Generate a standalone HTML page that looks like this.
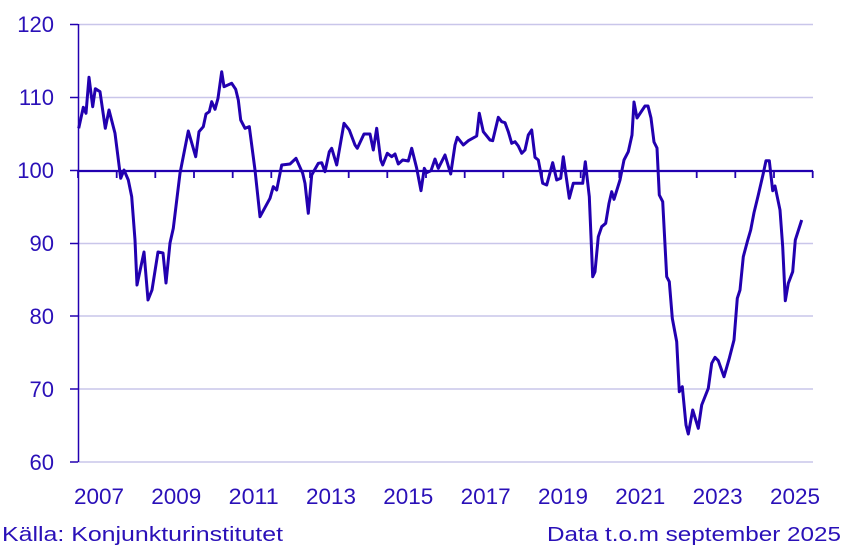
<!DOCTYPE html>
<html><head><meta charset="utf-8"><style>
html,body{margin:0;padding:0;background:#fff}
svg{display:block}
text{font-family:"Liberation Sans",sans-serif;fill:#2a10b8}
</style></head><body>
<svg width="851" height="554" viewBox="0 0 851 554" xmlns="http://www.w3.org/2000/svg">
<g stroke="#c9c6ea" stroke-width="1.5">
<line x1="78" y1="24.5" x2="813" y2="24.5"/>
<line x1="78" y1="97.5" x2="813" y2="97.5"/>
<line x1="78" y1="243.5" x2="813" y2="243.5"/>
<line x1="78" y1="316" x2="813" y2="316"/>
<line x1="78" y1="389" x2="813" y2="389"/>
<line x1="78" y1="462" x2="813" y2="462"/>
</g>
<g stroke="#2200b0" stroke-width="1.5">
<line x1="78.5" y1="24" x2="78.5" y2="462"/>
<line x1="70" y1="24.5" x2="78" y2="24.5"/>
<line x1="70" y1="97.5" x2="78" y2="97.5"/>
<line x1="70" y1="170.5" x2="78" y2="170.5"/>
<line x1="70" y1="243.5" x2="78" y2="243.5"/>
<line x1="70" y1="316" x2="78" y2="316"/>
<line x1="70" y1="389" x2="78" y2="389"/>
<line x1="70" y1="462" x2="78" y2="462"/>
</g>
<line x1="78" y1="171" x2="813" y2="171" stroke="#2200b0" stroke-width="2.2"/>
<g stroke="#2200b0" stroke-width="1.8">
<line x1="78" y1="171" x2="78" y2="178"/>
<line x1="116.7" y1="171" x2="116.7" y2="178"/>
<line x1="155.3" y1="171" x2="155.3" y2="178"/>
<line x1="194" y1="171" x2="194" y2="178"/>
<line x1="232.7" y1="171" x2="232.7" y2="178"/>
<line x1="271.3" y1="171" x2="271.3" y2="178"/>
<line x1="310" y1="171" x2="310" y2="178"/>
<line x1="348.7" y1="171" x2="348.7" y2="178"/>
<line x1="387.3" y1="171" x2="387.3" y2="178"/>
<line x1="426" y1="171" x2="426" y2="178"/>
<line x1="464.7" y1="171" x2="464.7" y2="178"/>
<line x1="503.3" y1="171" x2="503.3" y2="178"/>
<line x1="542" y1="171" x2="542" y2="178"/>
<line x1="580.7" y1="171" x2="580.7" y2="178"/>
<line x1="619.3" y1="171" x2="619.3" y2="178"/>
<line x1="658" y1="171" x2="658" y2="178"/>
<line x1="696.7" y1="171" x2="696.7" y2="178"/>
<line x1="735.3" y1="171" x2="735.3" y2="178"/>
<line x1="774" y1="171" x2="774" y2="178"/>
<line x1="812.7" y1="171" x2="812.7" y2="178"/>
</g>
<polyline fill="none" stroke="#2200b0" stroke-width="3" stroke-linejoin="round" points="
78.7,128.3 83.3,107.3 86,113.3 89,77.3 92.7,106.7 95.3,88.7 100,91.7 105.3,128.3 109,110 115,133.3 120.7,178.3 124,170 128.3,180 131.7,196.7 135,240
137,285 144,252 148,300 152,290 158,252 163,253 166,283 170,243 173.3,228.3 180,173.3 188.3,131 195.7,156.7 199,131.7 203.3,126.7 206,114 209.3,111.7 211.7,101.7 215,109.3 218,98.3 221.7,71.7 224,86.7 231.7,83.3 235.7,89.3 238.3,100 240.7,120 245,128.3 249.3,126.7 255,170 260,216.7 270,198.3 273.3,186.7 276.7,190 281.7,165 290,164 296,158.3 302.7,173.3 305,183.3 308.3,213.3 311.7,175 318.3,163.3 321.7,162.7 325,171.7 329.3,151.7 331.7,148.3 336.7,165 344,123.3 349.3,130 355,145 357.3,148.3 364,134 370,134 373.3,150 376.7,128.3 380.7,160 382.7,165 387.3,153.3 391.7,156.7 395,154 398.3,164 402.7,160 408.3,161 411.7,148.3 416.7,168.3 421,190.7 424.3,168.3 426.7,172.7 431,170.7 435,159 438.3,168.3 445,155 450.7,174 455,145 457.3,137.3 463.3,145 468.3,140.7 476.7,136 479.3,113.3 483.3,131.7 490,140 492.7,140.7 498.3,117.3 501.7,121.7 505,122.7 508.3,131.7 511.7,143.3 515,141.7 518.3,146 521.7,153.3 525,150 528.3,135 531.7,130 535,157.3 538.3,160 542.7,183.3 546.7,185 552.7,162.7 556.7,180 560.7,178.3 563.3,156.7 569.3,198.3 573.3,183.3 581.7,183.3 582.7,183.3 585.3,161.7 589.3,196.7 592.7,276.7 595,271.7 598.3,236.7 601.7,226.7 605.7,223.3 609,203.3 611.7,191.7 614,199.3 620,180 624,160 628.3,151.7 632,135 634,102 637,118 641,112 645,106 648,106 651,118 654,142 657,148 659.3,195 662.7,201.7 666.7,276.7 669.3,281.7 672.3,318.3 676.7,341.7 679.3,391.7 682.3,386.7 686,425 688.3,434 692.7,410 698.3,428.3 701.7,405 708.3,388.3 711.7,363.3 715,357.3 718.3,360.7 724,376.7 729.3,358.3 734,340 737.3,298.3 740,290 743.3,256.7 747.3,241.7 750.7,230 754,212.7 758.3,195 763.3,173.3 766,160.7 769.3,160.7 772.7,190.7 775,186 780,210 782.7,246.7 785.3,300.7 788.3,283.3 792.7,271.7 795.3,240 801.7,220"/>
<g font-size="22" text-anchor="end">
<text x="54" y="32">120</text>
<text x="54" y="105">110</text>
<text x="54" y="178">100</text>
<text x="54" y="251">90</text>
<text x="54" y="324">80</text>
<text x="54" y="397">70</text>
<text x="54" y="470">60</text>
</g>
<g font-size="22" text-anchor="middle">
<text x="99" y="504" textLength="50" lengthAdjust="spacingAndGlyphs">2007</text>
<text x="176.3" y="504" textLength="50" lengthAdjust="spacingAndGlyphs">2009</text>
<text x="253.7" y="504" textLength="50" lengthAdjust="spacingAndGlyphs">2011</text>
<text x="331" y="504" textLength="50" lengthAdjust="spacingAndGlyphs">2013</text>
<text x="408.3" y="504" textLength="50" lengthAdjust="spacingAndGlyphs">2015</text>
<text x="485.7" y="504" textLength="50" lengthAdjust="spacingAndGlyphs">2017</text>
<text x="563" y="504" textLength="50" lengthAdjust="spacingAndGlyphs">2019</text>
<text x="640.3" y="504" textLength="50" lengthAdjust="spacingAndGlyphs">2021</text>
<text x="717.7" y="504" textLength="50" lengthAdjust="spacingAndGlyphs">2023</text>
<text x="795" y="504" textLength="50" lengthAdjust="spacingAndGlyphs">2025</text>
</g>
<text x="2" y="541" font-size="20" textLength="281" lengthAdjust="spacingAndGlyphs">Källa: Konjunkturinstitutet</text>
<text x="547" y="541" font-size="20" textLength="294" lengthAdjust="spacingAndGlyphs">Data t.o.m september 2025</text>
</svg>
</body></html>
